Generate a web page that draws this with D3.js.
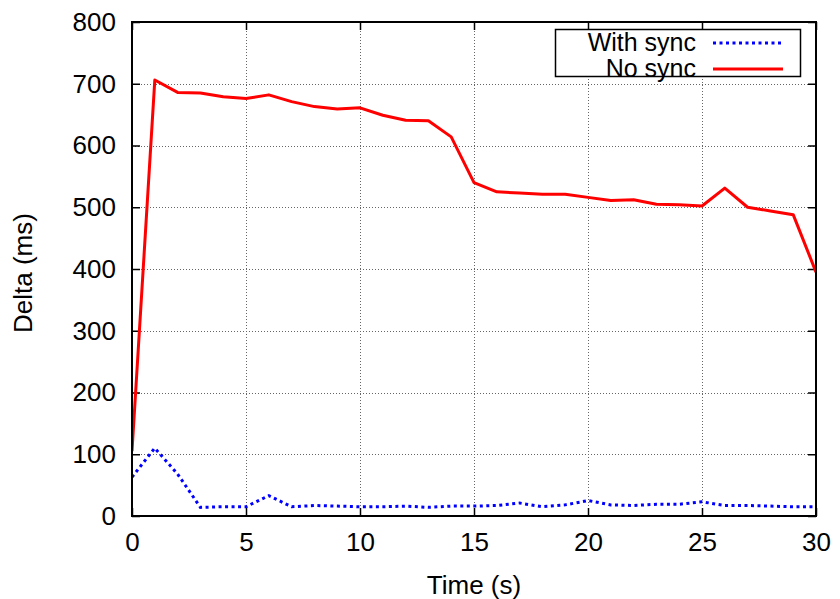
<!DOCTYPE html>
<html>
<head>
<meta charset="utf-8">
<script src="https://cdn.jsdelivr.net/npm/d3@7"></script>
<style>
  html, body { margin: 0; padding: 0; background: #fff; }
  svg { display: block; font-family: "Liberation Sans", Arial, sans-serif; }
</style>
</head>
<body>
<svg id="chart" width="840" height="599"></svg>
<script>
// ---- data ----
const times = [0,1,2,3,4,5,6,7,8,9,10,11,12,13,14,15,16,17,18,19,20,21,22,23,24,25,26,27,28,29,30];
const withSync = [63,110,68,14,15,15,33,15,17,16,15,15,16,14,16,16,17,21,15,18,25,18,17,19,19,23,17,17,16,15,15];
const noSync = [105,706,686,685,679,676,682,671,663,659,661,649,641,640,614,540,525,523,521,521,516,511,512,505,504,502,531,500,494,488,395];
const xTicks = [0,5,10,15,20,25,30];
const yTicks = [0,100,200,300,400,500,600,700,800];
const seriesNames = ["With sync", "No sync"];
const seriesColors = ["#0000ff", "#ff0000"];
const xTitle = "Time (s)";
const yTitle = "Delta (ms)";

// ---- layout ----
const L = 132, R = 816, T = 22, B = 516;
const FS = 26;
const svg = d3.select("#chart");

const x = d3.scaleLinear().domain([0, 30]).range([L, R]);
const y = d3.scaleLinear().domain([0, 800]).range([B, T]);

// grid
const grid = svg.append("g").attr("stroke", "#666").attr("stroke-width", 1).attr("stroke-dasharray", "1,2");
grid.selectAll("line.gx").data(xTicks.slice(1, -1)).join("line")
  .attr("x1", d => Math.round(x(d)) + 0.5).attr("x2", d => Math.round(x(d)) + 0.5)
  .attr("y1", T).attr("y2", B);
grid.selectAll("line.gy").data(yTicks.slice(1, -1)).join("line")
  .attr("y1", d => Math.round(y(d)) + 0.5).attr("y2", d => Math.round(y(d)) + 0.5)
  .attr("x1", L).attr("x2", R);

// axes
function styleAxis(g) {
  g.select(".domain").remove();
  g.selectAll(".tick line").attr("stroke", "#000").attr("stroke-width", 1.5);
  g.selectAll(".tick text").attr("fill", "#000").attr("font-size", FS)
    .attr("font-family", "'Liberation Sans', Arial, sans-serif");
}
svg.append("g").attr("transform", `translate(0,${B})`)
  .call(d3.axisBottom(x).tickValues(xTicks).tickSizeInner(-8).tickSizeOuter(0).tickPadding(16.5).tickFormat(d3.format("d")))
  .call(styleAxis);
svg.append("g").attr("transform", `translate(${L},0)`)
  .call(d3.axisLeft(y).tickValues(yTicks).tickSizeInner(-8).tickSizeOuter(0).tickPadding(16).tickFormat(d3.format("d")))
  .call(styleAxis);
svg.append("g").attr("transform", `translate(0,${T})`)
  .call(d3.axisTop(x).tickValues(xTicks).tickSizeInner(-8).tickSizeOuter(0).tickFormat(""))
  .call(styleAxis);
svg.append("g").attr("transform", `translate(${R},0)`)
  .call(d3.axisRight(y).tickValues(yTicks).tickSizeInner(-8).tickSizeOuter(0).tickFormat(""))
  .call(styleAxis);

// lines
const line = d3.line().x((d, i) => x(times[i])).y(d => y(d));
svg.append("clipPath").attr("id", "clip").append("rect")
  .attr("x", L).attr("y", T).attr("width", R - L).attr("height", B - T);
svg.append("path").datum(withSync).attr("d", line)
  .attr("fill", "none").attr("stroke", seriesColors[0]).attr("stroke-width", 3)
  .attr("stroke-dasharray", "3,3.5").attr("clip-path", "url(#clip)");
svg.append("path").datum(noSync).attr("d", line)
  .attr("fill", "none").attr("stroke", seriesColors[1]).attr("stroke-width", 3)
  .attr("stroke-linejoin", "round").attr("clip-path", "url(#clip)");

// frame
svg.append("rect").attr("x", L).attr("y", T).attr("width", R - L).attr("height", B - T)
  .attr("fill", "none").attr("stroke", "#000").attr("stroke-width", 2);

// legend
const leg = svg.append("g");
leg.append("rect").attr("x", 555.5).attr("y", 29.5).attr("width", 245).attr("height", 47)
  .attr("fill", "#fff").attr("stroke", "#000").attr("stroke-width", 1.5);
seriesNames.forEach((name, i) => {
  const yy = 43 + i * 26;
  leg.append("text").attr("x", 696).attr("y", yy + 8).attr("text-anchor", "end")
    .attr("font-size", 25).attr("fill", "#000").text(name);
  leg.append("line").attr("x1", 713).attr("x2", 783).attr("y1", yy).attr("y2", yy)
    .attr("stroke", seriesColors[i]).attr("stroke-width", 3)
    .attr("stroke-dasharray", i === 0 ? "3,3.5" : null);
});

// titles
svg.append("text").attr("x", (L + R) / 2).attr("y", 594).attr("text-anchor", "middle")
  .attr("font-size", FS).attr("fill", "#000").text(xTitle);
svg.append("text").attr("transform", "translate(32,273) rotate(-90)").attr("text-anchor", "middle")
  .attr("font-size", FS).attr("fill", "#000").text(yTitle);
</script>
</body>
</html>
